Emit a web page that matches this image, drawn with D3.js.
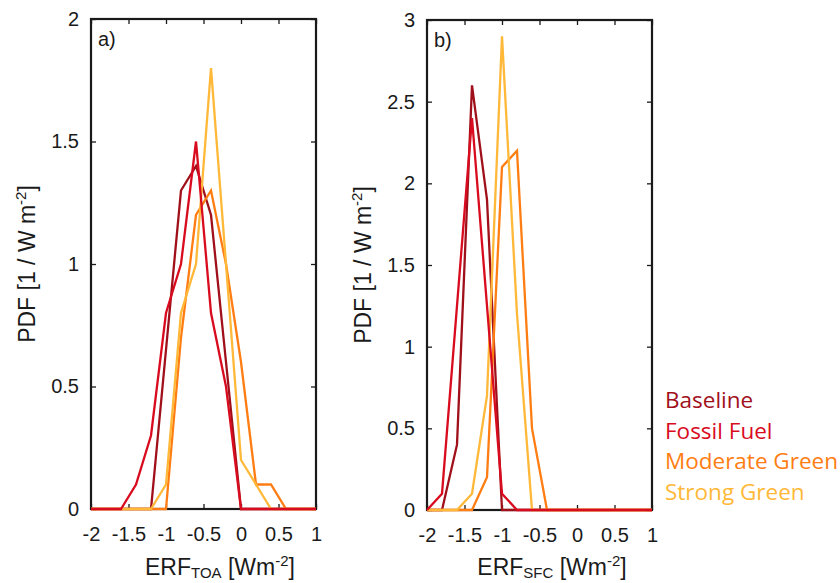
<!DOCTYPE html>
<html>
<head>
<meta charset="utf-8">
<script src="https://cdn.jsdelivr.net/npm/d3@7"></script>
<style>
  body { margin: 0; background: #fff; }
  text { font-family: "Liberation Sans", Arial, sans-serif; fill: #1a1a1a; }
  .legend text { font-family: "Open Sans", "Noto Sans", sans-serif; }
</style>
</head>
<body>
<div id="chart"></div>
<script>
// bin centres shared by both panels
const binCenters = [-2, -1.8, -1.6, -1.4, -1.2, -1, -0.8, -0.6, -0.4, -0.2, 0, 0.2, 0.4, 0.6, 0.8, 1];

// panel a) ERF at top of atmosphere
const toaBaseline = [0, 0, 0, 0, 0, 0.65, 1.3, 1.4, 1.2, 0.6, 0, 0, 0, 0, 0, 0];
const toaFossil   = [0, 0, 0, 0.1, 0.3, 0.8, 1.0, 1.5, 0.8, 0.5, 0, 0, 0, 0, 0, 0];
const toaModerate = [0, 0, 0, 0, 0, 0, 0.7, 1.2, 1.3, 1.0, 0.6, 0.1, 0.1, 0, 0, 0];
const toaStrong   = [0, 0, 0, 0, 0, 0.1, 0.8, 1.0, 1.8, 1.0, 0.2, 0.1, 0, 0, 0, 0];

// panel b) ERF at surface
const sfcBaseline = [0, 0, 0.4, 2.6, 1.9, 0, 0, 0, 0, 0, 0, 0, 0, 0, 0, 0];
const sfcFossil   = [0, 0.1, 1.25, 2.4, 1.25, 0.1, 0, 0, 0, 0, 0, 0, 0, 0, 0, 0];
const sfcModerate = [0, 0, 0, 0, 0.2, 2.1, 2.2, 0.5, 0, 0, 0, 0, 0, 0, 0, 0];
const sfcStrong   = [0, 0, 0, 0.1, 0.7, 2.9, 1.2, 0, 0, 0, 0, 0, 0, 0, 0, 0];

const scenarios = ["Baseline", "Fossil Fuel", "Moderate Green", "Strong Green"];
const colors = ["#a0101b", "#d90b1e", "#ff7d12", "#ffb838"];

const xTicks = [-2, -1.5, -1, -0.5, 0, 0.5, 1];
const yTicksA = [0, 0.5, 1, 1.5, 2];
const yTicksB = [0, 0.5, 1, 1.5, 2, 2.5, 3];

const svg = d3.select("#chart").append("svg")
    .attr("width", 840)
    .attr("height", 583);

function drawPanel(opt) {
    const x = d3.scaleLinear().domain([-2, 1]).range([opt.left, opt.right]);
    const y = d3.scaleLinear().domain([0, opt.yMax]).range([opt.bottom, opt.top]);
    const g = svg.append("g");

    // axes with inward ticks on all four sides
    const fmt = d => String(d);
    g.append("g").attr("transform", "translate(0," + opt.bottom + ")")
        .call(d3.axisBottom(x).tickValues(xTicks).tickSize(-5).tickPadding(18).tickFormat(fmt));
    g.append("g").attr("transform", "translate(0," + opt.top + ")")
        .call(d3.axisTop(x).tickValues(xTicks).tickSize(-5).tickFormat(""));
    g.append("g").attr("transform", "translate(" + opt.left + ",0)")
        .call(d3.axisLeft(y).tickValues(opt.yTicks).tickSize(-5).tickPadding(12).tickFormat(fmt));
    g.append("g").attr("transform", "translate(" + opt.right + ",0)")
        .call(d3.axisRight(y).tickValues(opt.yTicks).tickSize(-5).tickFormat(""));

    g.selectAll(".domain").remove();
    g.selectAll(".tick line").attr("stroke", "#1a1a1a").attr("stroke-width", 1.3);
    g.selectAll(".tick text").style("font-size", "20px").attr("fill", "#1a1a1a");

    g.append("rect")
        .attr("x", opt.left).attr("y", opt.top)
        .attr("width", opt.right - opt.left).attr("height", opt.bottom - opt.top)
        .attr("fill", "none").attr("stroke", "#1a1a1a").attr("stroke-width", 2.2);

    // pdf curves, fossil fuel last so it sits on top
    const line = d3.line().x((d, i) => x(binCenters[i])).y(d => y(d));
    [0, 2, 3, 1].forEach(k => {
        g.append("path")
            .datum(opt.series[k])
            .attr("d", line)
            .attr("fill", "none")
            .attr("stroke", colors[k])
            .attr("stroke-width", 2.3)
            .attr("stroke-linejoin", "miter");
    });

    g.append("text")
        .attr("x", opt.left + 7).attr("y", opt.top + 27)
        .style("font-size", "20px")
        .text(opt.tag);

    // y title
    const yt = g.append("text")
        .attr("transform", "translate(" + (opt.left - 56) + "," + ((opt.top + opt.bottom) / 2) + ") rotate(-90)")
        .attr("text-anchor", "middle")
        .style("font-size", "23px");
    yt.append("tspan").text("PDF [1 / W m");
    yt.append("tspan").attr("dy", -9).style("font-size", "15px").text("-2");
    yt.append("tspan").attr("dy", 9).text("]");

    // x title
    const xt = g.append("text")
        .attr("x", opt.titleX).attr("y", 575)
        .attr("text-anchor", "middle")
        .style("font-size", "23px");
    xt.append("tspan").text("ERF");
    xt.append("tspan").attr("dy", 3).style("font-size", "15px").text(opt.sub);
    xt.append("tspan").attr("dy", -3).text(" [Wm");
    xt.append("tspan").attr("dy", -9).style("font-size", "15px").text("-2");
    xt.append("tspan").attr("dy", 9).text("]");
}

drawPanel({
    left: 91, right: 316, top: 19, bottom: 509, yMax: 2, yTicks: yTicksA,
    series: [toaBaseline, toaFossil, toaModerate, toaStrong],
    tag: "a)", sub: "TOA", titleX: 220
});

drawPanel({
    left: 427, right: 652, top: 20, bottom: 510, yMax: 3, yTicks: yTicksB,
    series: [sfcBaseline, sfcFossil, sfcModerate, sfcStrong],
    tag: "b)", sub: "SFC", titleX: 552
});

// legend
const legend = svg.append("g").attr("class", "legend");
scenarios.forEach((name, i) => {
    legend.append("text")
        .attr("x", 665).attr("y", 408 + i * 30.7)
        .style("font-size", "22.5px")
        .style("fill", colors[i])
        .text(name);
});
</script>
</body>
</html>
